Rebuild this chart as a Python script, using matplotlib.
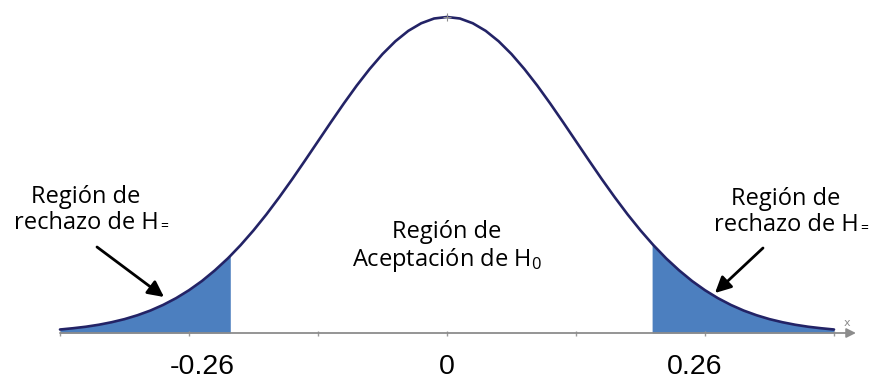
import matplotlib.pyplot as plt

# density of the curve (z in standard units)
z_vals = [-3.0, -2.9, -2.8, -2.7, -2.6, -2.5, -2.4, -2.3, -2.2, -2.1, -2.0,
          -1.9, -1.8, -1.7, -1.68, -1.6, -1.5, -1.4, -1.3, -1.2, -1.1, -1.0,
          -0.9, -0.8, -0.7, -0.6, -0.5, -0.4, -0.3, -0.2, -0.1, 0.0,
          0.1, 0.2, 0.3, 0.4, 0.5, 0.6, 0.7, 0.8, 0.9, 1.0,
          1.1, 1.2, 1.3, 1.4, 1.5, 1.59, 1.6, 1.7, 1.8, 1.9, 2.0,
          2.1, 2.2, 2.3, 2.4, 2.5, 2.6, 2.7, 2.8, 2.9, 3.0]
density = [0.0044, 0.0060, 0.0079, 0.0104, 0.0136, 0.0175, 0.0224, 0.0283, 0.0355, 0.0440, 0.0540,
           0.0656, 0.0790, 0.0940, 0.0973, 0.1109, 0.1295, 0.1497, 0.1714, 0.1942, 0.2179, 0.2420,
           0.2661, 0.2897, 0.3123, 0.3332, 0.3521, 0.3683, 0.3814, 0.3910, 0.3970, 0.3989,
           0.3970, 0.3910, 0.3814, 0.3683, 0.3521, 0.3332, 0.3123, 0.2897, 0.2661, 0.2420,
           0.2179, 0.1942, 0.1714, 0.1497, 0.1295, 0.1127, 0.1109, 0.0940, 0.0790, 0.0656, 0.0540,
           0.0440, 0.0355, 0.0283, 0.0224, 0.0175, 0.0136, 0.0104, 0.0079, 0.0060, 0.0044]

left_cut = -1.68
right_cut = 1.59
axis_ticks = [-3, -2, -1, 0, 1, 2, 3]
crit_labels = ['-0.26', '0', '0.26']
crit_pos = [-1.90, 0.0, 1.92]

W, H = 871, 385


def frac(px, py):
    # pixel position in the picture -> axes fraction
    return px / W, 1 - py / H


def main():
    plt.rcParams['mathtext.fontset'] = 'custom'
    plt.rcParams['mathtext.rm'] = 'Open Sans'
    plt.rcParams['mathtext.it'] = 'Open Sans'

    fig = plt.figure(figsize=(W / 100, H / 100), dpi=100)
    ax = fig.add_axes([0, 0, 1, 1])
    ax.set_xlim(-447 / 129, (W - 447) / 129)
    ax.set_ylim(-52 / 316 * 0.3989, 0.3989 + 17 / 316 * 0.3989)
    ax.axis('off')

    blue = '#4c7fbf'
    navy = '#232366'

    left_z = [z for z in z_vals if z <= left_cut]
    left_d = [d for z, d in zip(z_vals, density) if z <= left_cut]
    right_z = [z for z in z_vals if z >= right_cut]
    right_d = [d for z, d in zip(z_vals, density) if z >= right_cut]
    ax.fill_between(left_z, 0, left_d, color=blue, lw=0)
    ax.fill_between(right_z, 0, right_d, color=blue, lw=0)

    # x axis with arrow
    ax.annotate('', xy=(3.17, 0), xytext=(-3.0, 0),
                arrowprops=dict(arrowstyle='-|>', color='#8c8c8c', lw=1.3,
                                mutation_scale=14, shrinkA=0, shrinkB=0))
    ax.vlines(axis_ticks, -0.004, 0.002, color='#9a9a9a', lw=1)
    ax.text(3.10, 0.012, 'x', fontsize=8, color='#8c8c8c', ha='center', va='center')

    ax.plot(z_vals, density, color=navy, lw=1.9, solid_capstyle='round')
    ax.plot([0], [max(density)], marker='+', color='#8c8c8c', ms=6, mew=0.8)

    for lab, pos in zip(crit_labels, crit_pos):
        ax.text(*frac(447 + pos * 129, 367), lab, fontsize=20.5,
                family='Liberation Sans', ha='center', va='center',
                transform=ax.transAxes)

    tfont = dict(fontsize=17, family='Open Sans', ha='center', va='center',
                 transform=ax.transAxes, linespacing=1.15)
    for px, py in [(86, 210), (786, 212)]:
        t = ax.text(*frac(px, py), 'Región de\nrechazo de H', **tfont)
        # small "=" subscript after the H
        ax.annotate('=', xy=(1, 0), xycoords=t, xytext=(1, 1),
                    textcoords='offset points', fontsize=10, family='Open Sans',
                    ha='left', va='bottom')
    ax.text(*frac(447, 247), 'Región de\nAceptación de H$_0$', **tfont)

    arrow = dict(arrowstyle='-|>', color='black', lw=2, mutation_scale=24,
                 shrinkA=0, shrinkB=0)
    ax.annotate('', xy=frac(164, 297), xytext=frac(97, 247),
                xycoords='axes fraction', textcoords='axes fraction', arrowprops=arrow)
    ax.annotate('', xy=frac(715, 293), xytext=frac(763, 248),
                xycoords='axes fraction', textcoords='axes fraction', arrowprops=arrow)

    fig.savefig('out.png', dpi=100)


if __name__ == '__main__':
    main()
